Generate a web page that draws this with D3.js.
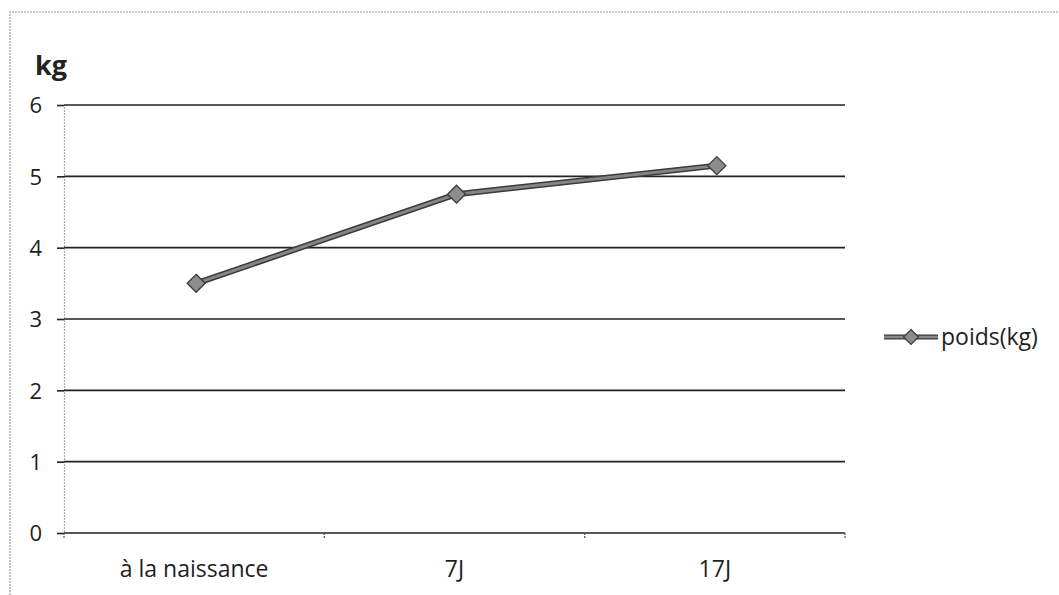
<!DOCTYPE html>
<html><head><meta charset="utf-8">
<script src="https://cdn.jsdelivr.net/npm/d3@7"></script>
<style>body{margin:0;background:#fff;}svg{display:block;font-family:"Open Sans",sans-serif;}</style>
</head><body><svg id="c" width="1059" height="595"></svg>
<script>
const categories = ["à la naissance", "7J", "17J"];
const poids = [3.5, 4.75, 5.15];
const yTicks = [0, 1, 2, 3, 4, 5, 6];
const seriesName = "poids(kg)";
const yTitle = "kg";

const svg = d3.select("#c");
const m = {left: 64, right: 845, top: 105, bottom: 533};

// outer frame
svg.append("path").attr("d", `M10,595 L10,12 L1059,12`).attr("fill","none")
  .attr("stroke","#9a9a9a").attr("stroke-width",1.2).attr("stroke-dasharray","2,1");

const x = d3.scaleBand().domain(categories).range([m.left, m.right]).padding(0);
const y = d3.scaleLinear().domain([0, 6]).range([m.bottom, m.top]);

// gridlines + y labels
const yAxis = svg.append("g").attr("transform", `translate(${m.left},0)`)
  .call(d3.axisLeft(y).tickValues(yTicks).tickSize(7).tickFormat(d3.format("d")));
yAxis.select(".domain").attr("stroke","#aaa").attr("stroke-width",1.2).attr("stroke-dasharray","2,1");
yAxis.selectAll(".tick line").attr("stroke","#222").attr("stroke-width",1.6);
yAxis.selectAll(".tick text").attr("x",-22).attr("dy","0.36em").attr("font-size",22).attr("fill","#1e1e1e").attr("font-family","Open Sans, sans-serif");
svg.append("g").selectAll("line").data(yTicks).join("line")
  .attr("x1", m.left).attr("x2", m.right).attr("y1", d=>y(d)).attr("y2", d=>y(d))
  .attr("stroke","#222").attr("stroke-width",1.6);

// x axis
const xAxis = svg.append("g").attr("transform", `translate(0,${m.bottom})`)
  .call(d3.axisBottom(x).tickSize(0).tickPadding(28));
xAxis.select(".domain").remove();
xAxis.selectAll(".tick text").attr("font-size",23).attr("fill","#1e1e1e").attr("font-family","Open Sans, sans-serif");
const bounds = categories.map(c => x(c)).concat([x(categories[categories.length-1]) + x.bandwidth()]);
svg.append("g").selectAll("line").data(bounds).join("line")
  .attr("x1", d=>d).attr("x2", d=>d).attr("y1", m.bottom).attr("y2", m.bottom+6)
  .attr("stroke","#555").attr("stroke-width",1.2).attr("stroke-dasharray","2,1");

// y title
svg.append("text").attr("x", 35).attr("y", 75).text(yTitle)
  .attr("font-size", 27).attr("font-weight","bold").attr("fill","#222");

// line
const cx = c => x(c) + x.bandwidth()/2 + 2;
const line = d3.line().x((d,i)=>cx(categories[i])).y(d=>y(d));
svg.append("path").datum(poids).attr("d", line).attr("fill","none")
  .attr("stroke","#3a3a3a").attr("stroke-width",6).attr("stroke-linejoin","round");
svg.append("path").datum(poids).attr("d", line).attr("fill","none")
  .attr("stroke","#858585").attr("stroke-width",3).attr("stroke-linejoin","round");

const diamond = (px, py, r) => `M${px},${py-r} L${px+r},${py} L${px},${py+r} L${px-r},${py} Z`;
svg.append("g").selectAll("path").data(poids).join("path")
  .attr("d", (d,i)=>diamond(cx(categories[i]), y(d), 9))
  .attr("fill","#8c8c8c").attr("stroke","#3a3a3a").attr("stroke-width",1.3);

// legend
const ly = 337;
svg.append("line").attr("x1",884).attr("x2",938).attr("y1",ly).attr("y2",ly).attr("stroke","#3a3a3a").attr("stroke-width",5);
svg.append("line").attr("x1",884).attr("x2",938).attr("y1",ly).attr("y2",ly).attr("stroke","#8a8a8a").attr("stroke-width",2.5);
svg.append("path").attr("d", diamond(911, ly, 7.5)).attr("fill","#8c8c8c").attr("stroke","#3a3a3a").attr("stroke-width",1.2);
svg.append("text").attr("x",941).attr("y",ly+8).text(seriesName).attr("font-size",23).attr("fill","#1e1e1e");
</script></body></html>
